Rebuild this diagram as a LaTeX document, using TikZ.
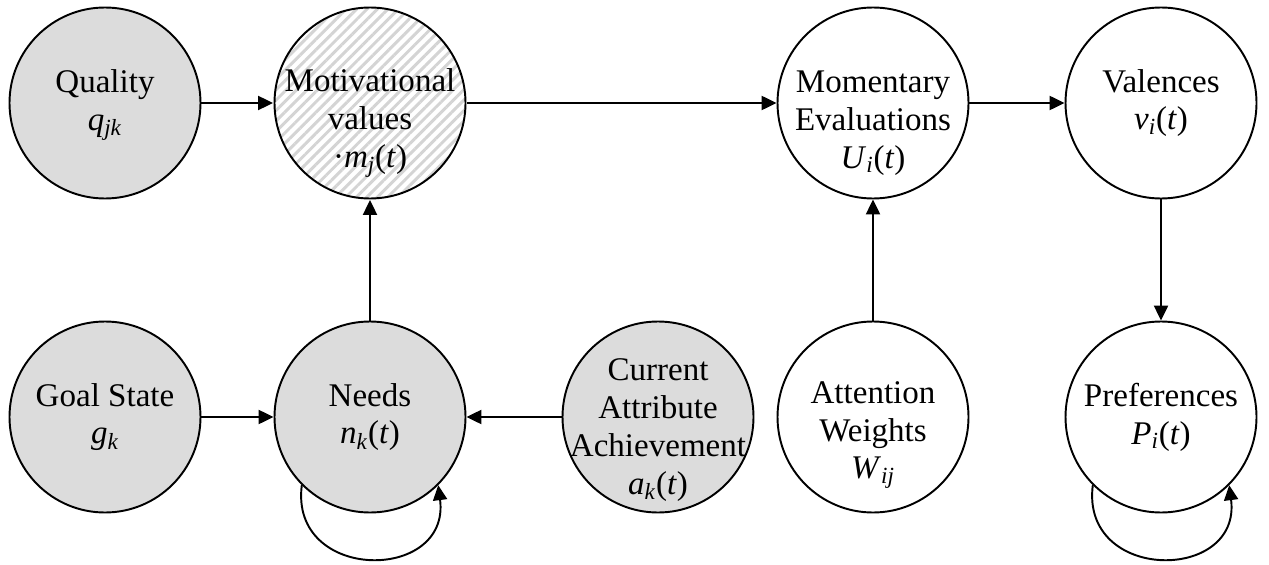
\documentclass[tikz,border=0pt]{standalone}
\usepackage{fontspec}
\setmainfont{Liberation Serif}
\usepackage{tikz}
\usetikzlibrary{arrows.meta,patterns.meta,calc}
\definecolor{nodegray}{RGB}{220,220,220}
\definecolor{hatchgray}{RGB}{212,212,212}
\newcommand{\vsub}[2]{\textit{#1}\textsubscript{\textit{#2}}}

\begin{document}
\begin{tikzpicture}[x=1cm,y=1cm,font=\fontsize{18.8}{21.5}\selectfont,
    state/.style={circle,draw,line width=1.1pt,minimum size=3.82cm,inner sep=0pt},
    shaded/.style={state,fill=nodegray},
    hatched/.style={state,pattern={Lines[angle=45,distance=4.2pt,line width=1.7pt]},pattern color=hatchgray},
    lbl/.style={align=center,inner sep=0pt},
    flow/.style={line width=1.1pt,-{Triangle[length=8.5pt,width=8pt]}}]
  \useasboundingbox (0,0) rectangle (25.38,11.28);
  % ---- top row ----
  \node[shaded]  (qual)  at (2.10,9.22) {};
  \node[hatched] (motiv) at (7.40,9.22) {};
  \node[state]   (momev) at (17.46,9.22) {};
  \node[state]   (valen) at (23.22,9.22) {};
  % ---- bottom row ----
  \node[shaded] (goal)  at (2.10,2.94) {};
  \node[shaded] (needs) at (7.40,2.94) {};
  \node[shaded] (curr)  at (13.16,2.94) {};
  \node[state]  (atten) at (17.46,2.94) {};
  \node[state]  (prefs) at (23.22,2.94) {};
  % ---- labels ----
  \node[lbl] (qualtxt)  at ($(qual)+(0,-0.04)$) {Quality\\\vsub{q}{jk}};
  \node[lbl] (motivtxt) at ($(motiv)+(0,-0.40)$) {Motivational\\values\\·\vsub{m}{j}(\textit{t})};
  \node[lbl] (momevtxt) at ($(momev)+(0,-0.40)$) {Momentary\\Evaluations\\\vsub{U}{i}(\textit{t})};
  \node[lbl] (valentxt) at (valen) {Valences\\\vsub{v}{i}(\textit{t})};
  \node[lbl] (goaltxt)  at (goal) {Goal State\\\vsub{g}{k}};
  \node[lbl] (needstxt) at (needs) {Needs\\\vsub{n}{k}(\textit{t})};
  \node[lbl] (currtxt)  at ($(curr)+(0,-0.26)$) {Current\\Attribute\\Achievement\\\vsub{a}{k}(\textit{t})};
  \node[lbl] (attentxt) at ($(atten)+(0,-0.36)$) {Attention\\Weights\\\vsub{W}{ij}};
  \node[lbl] (prefstxt) at (prefs) {Preferences\\\vsub{P}{i}(\textit{t})};
  % ---- connectors ----
  \draw[flow] (qual) -- (motiv);
  \draw[flow] (motiv) -- (momev);
  \draw[flow] (momev) -- (valen);
  \draw[flow] (needs) -- (motiv);
  \draw[flow] (goal) -- (needs);
  \draw[flow] (curr) -- (needs);
  \draw[flow] (atten) -- (momev);
  \draw[flow] (valen) -- (prefs);
  % ---- self loops ----
  \draw[flow] (needs.225) .. controls +(-0.25,-1.95) and +(0.25,-1.95) .. (needs.315);
  \draw[flow] (prefs.225) .. controls +(-0.25,-1.95) and +(0.25,-1.95) .. (prefs.315);
\end{tikzpicture}
\end{document}
